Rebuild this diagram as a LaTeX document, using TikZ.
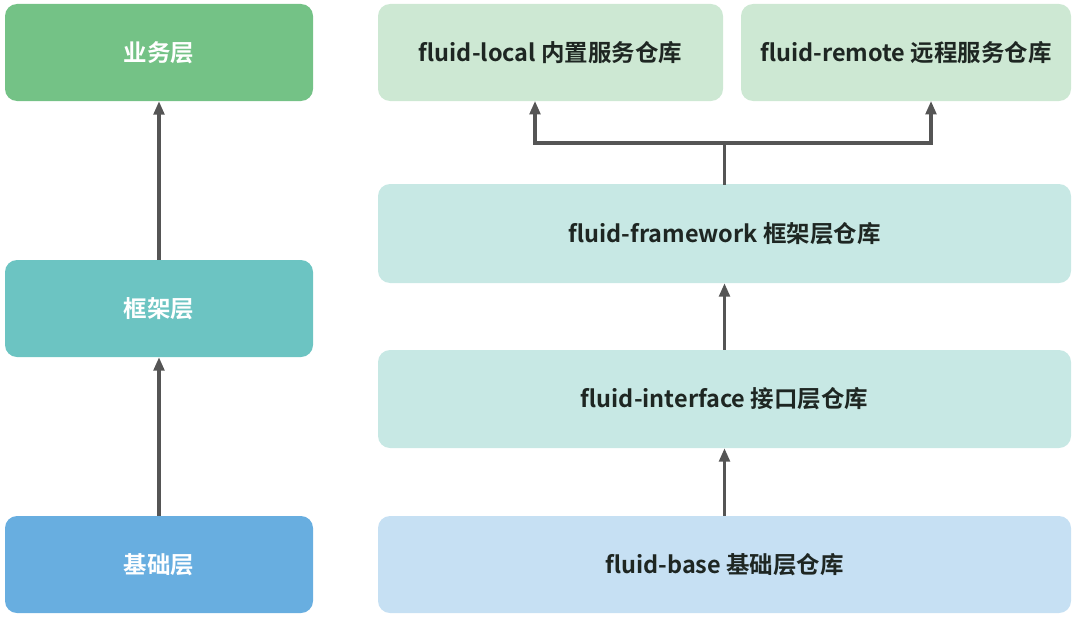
\documentclass[tikz,border=0pt]{standalone}
\usepackage{fontspec}
\setmainfont{Noto Sans CJK SC}[BoldFont={* Bold}]
\usetikzlibrary{arrows.meta}
\definecolor{gA}{HTML}{74C286}
\definecolor{tA}{HTML}{6CC4C2}
\definecolor{bA}{HTML}{68AEE0}
\definecolor{gL}{HTML}{CDE8D3}
\definecolor{tL}{HTML}{C7E8E4}
\definecolor{bL}{HTML}{C6E0F3}
\definecolor{arr}{HTML}{555555}
\definecolor{txt}{HTML}{1E2622}
\tikzset{
  box/.style={rounded corners=9pt, inner sep=0pt, font=\fontsize{17.6}{20}\selectfont\bfseries},
  dark/.style={box, text=white},
  light/.style={box, text=txt},
  conn/.style={draw=arr, line width=2.3pt, -{Triangle[length=10pt,width=8pt]}},
  plain/.style={draw=arr, line width=2.3pt, line cap=rect}
}
\begin{document}
\begin{tikzpicture}[x=0.75pt,y=-0.75pt]
\useasboundingbox (0,0) rectangle (1080,617);
% left column
\node[dark, fill=gA, minimum width=308*0.75pt, minimum height=97*0.75pt] (biz) at (159,52.5) {业务层};
\node[dark, fill=tA, minimum width=308*0.75pt, minimum height=97*0.75pt] (frm) at (159,308.5) {框架层};
\node[dark, fill=bA, minimum width=308*0.75pt, minimum height=97*0.75pt] (bas) at (159,564.5) {基础层};
% right column
\node[light, fill=gL, minimum width=345*0.75pt, minimum height=97*0.75pt] (loc) at (550.5,52.5) {fluid-local 内置服务仓库};
\node[light, fill=gL, minimum width=330*0.75pt, minimum height=97*0.75pt] (rem) at (906,52.5) {fluid-remote 远程服务仓库};
\node[light, fill=tL, minimum width=693*0.75pt, minimum height=99*0.75pt] (fw) at (724.5,233.5) {fluid-framework 框架层仓库};
\node[light, fill=tL, minimum width=693*0.75pt, minimum height=98*0.75pt] (itf) at (724.5,399) {fluid-interface 接口层仓库};
\node[light, fill=bL, minimum width=693*0.75pt, minimum height=97*0.75pt] (fb) at (724.5,564.5) {fluid-base 基础层仓库};
% connectors
\draw[conn] (frm.north) -- (biz.south);
\draw[conn] (bas.north) -- (frm.south);
\draw[conn] (itf.north) -- (fw.south);
\draw[conn] (fb.north) -- (itf.south);
\coordinate (j) at (724.5,143);
\draw[plain] (fw.north) -- (j);
\draw[conn] (j) -| (535,101);
\draw[conn] (j) -| (931,101);
\end{tikzpicture}
\end{document}
